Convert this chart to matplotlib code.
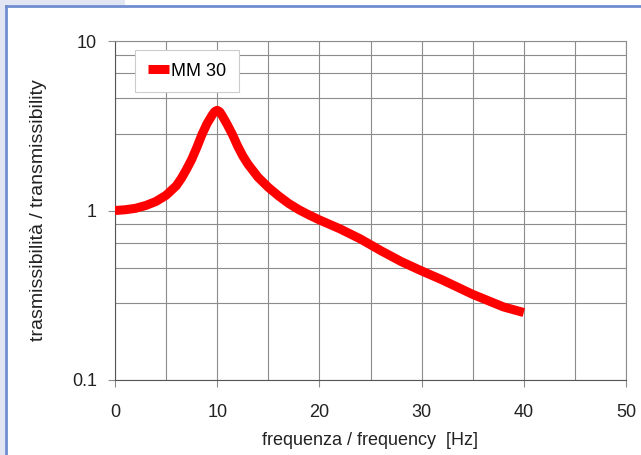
import matplotlib
matplotlib.use("Agg")
import matplotlib.pyplot as plt
from matplotlib.lines import Line2D
from matplotlib.ticker import FixedLocator, NullFormatter

# ===== DATI =====

freq = [0, 1, 2, 3, 4, 5, 6, 6.5, 7, 7.5, 8, 8.5, 9, 9.5, 9.75, 10, 10.25, 10.5, 11, 11.5, 12,
        12.5, 13, 14, 15, 16, 17, 18, 19, 20, 22, 24, 26, 28, 30, 32, 35, 38, 40]
trasm = [1.00, 1.01, 1.03, 1.07, 1.13, 1.23, 1.40, 1.55, 1.75, 2.0, 2.35, 2.8, 3.25, 3.65, 3.83,
         3.9, 3.82, 3.62, 3.2, 2.8, 2.4, 2.1, 1.88, 1.57, 1.37, 1.22, 1.1, 1.01, 0.94, 0.88,
         0.78, 0.68, 0.58, 0.50, 0.44, 0.39, 0.32, 0.27, 0.25]

serie = "MM 30"
x_ticks = [0, 10, 20, 30, 40, 50]
y_ticks = [0.1, 1, 10]
y_labels = ["0.1", "1", "10"]

# linee di griglia secondarie dentro ogni decade
griglia_y = [m * d for d in (0.1, 1) for m in (2.83, 4.61, 6.46, 8.3)]
griglia_x = [5, 15, 25, 35, 45]

# ===== GRAFICA =====

plt.rcParams["font.family"] = ["Liberation Sans", "DejaVu Sans"]

fig = plt.figure(figsize=(6.41, 4.55), dpi=100)
fig.patch.set_facecolor("white")

# cornice azzurra
fig.patches.append(plt.Rectangle((0, 1 - 5 / 455), 125 / 641, 5 / 455, transform=fig.transFigure,
                                 facecolor="#e2e6f2", edgecolor="none", zorder=0))
fig.patches.append(plt.Rectangle((0, 0), 5 / 641, 1, transform=fig.transFigure,
                                 facecolor="#e2e6f2", edgecolor="none", zorder=0))
fig.add_artist(Line2D([5.5 / 641, 1], [1 - 5.5 / 455, 1 - 5.5 / 455], transform=fig.transFigure,
                      color="#6f8dce", lw=2))
fig.add_artist(Line2D([5.5 / 641, 5.5 / 641], [0, 1 - 5.5 / 455], transform=fig.transFigure,
                      color="#6f8dce", lw=2))

ax = fig.add_axes([115 / 641, 1 - 380 / 455, 511 / 641, 339 / 455])

ax.set_yscale("log")
ax.set_xlim(0, 50)
ax.set_ylim(0.1, 10)

ax.plot(freq, trasm, color="#ff0000", lw=6.5, solid_capstyle="butt", solid_joinstyle="round",
        label=serie, zorder=3)

ax.set_xticks(x_ticks)
ax.set_xticklabels([str(v) for v in x_ticks])
ax.set_yticks(y_ticks)
ax.set_yticklabels(y_labels)
ax.yaxis.set_minor_locator(FixedLocator(griglia_y))
ax.yaxis.set_minor_formatter(NullFormatter())
ax.xaxis.set_minor_locator(FixedLocator(griglia_x))

ax.grid(True, which="both", color="#8c8c8c", lw=0.8)
ax.tick_params(axis="both", which="major", length=5, width=0.8, color="#8c8c8c",
               labelsize=13, pad=8, colors="#222222")
ax.tick_params(axis="both", which="minor", length=0)
ax.tick_params(axis="x", which="major", pad=12)

for lato in ax.spines.values():
    lato.set_color("#8c8c8c")
    lato.set_linewidth(0.8)
ax.spines["left"].set_color("#555555")
ax.spines["bottom"].set_color("#555555")

ax.set_xlabel("frequenza / frequency  [Hz]", fontsize=13, labelpad=8, color="#222222")
ax.set_ylabel("trasmissibilità / transmissibility", fontsize=14, labelpad=18, color="#222222")

leg = ax.legend(loc="upper left", bbox_to_anchor=(0.039, 0.973), fontsize=13, fancybox=False,
                framealpha=1, edgecolor="#cccccc", handlelength=1.2, handletextpad=0.1,
                borderpad=0.7, borderaxespad=0)
leg.get_frame().set_linewidth(0.8)

plt.savefig("out.png", dpi=100)
plt.close()
